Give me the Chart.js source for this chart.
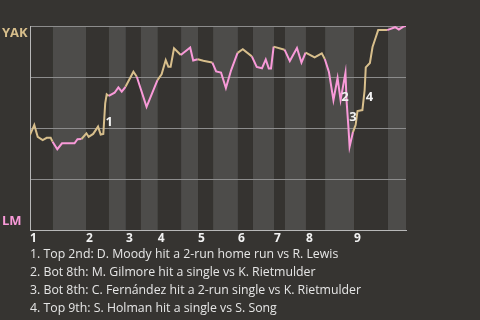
<!DOCTYPE html>
<html>
<head>
<meta charset="utf-8">
<script src="https://cdn.jsdelivr.net/npm/chart.js@4"></script>
<style>
  body { margin: 0; background: #363431; }
  #wrap { position: relative; width: 480px; height: 320px; }
  #wpChart { display: block; }
  #notes {
    position: absolute; left: 30px; top: 245px;
    font: 12.3px "Open Sans", sans-serif; color: #e6e6e6; line-height: 18px;
    white-space: nowrap;
  }
</style>
</head>
<body>
<div id="wrap">
  <canvas id="wpChart" width="480" height="320"></canvas>
  <div id="notes"></div>
</div>
<script>
// play-by-play win probability for YAK (1 = YAK wins, 0 = LM wins)
const plays = [0, 1.14, 2.05, 3.38, 4.44, 5.5, 6.0, 7.26, 8.51, 11.84, 12.63, 13.7, 15.0, 15.6, 16.8, 18.1, 18.8, 19.5, 20.0, 20.4,
  20.95, 22.5, 23.5, 24.4, 25.4, 27.5, 28.4, 31.0, 33.9, 35.0, 36.1, 36.8, 37.4, 38.3, 40.1, 42.6, 43.4, 44.6, 46.1, 47.4,
  48.5, 49.5, 50.8, 52.1, 53.5, 55.2, 56.6, 59.0, 60.3, 61.7, 62.7, 63.5, 64.1, 64.8, 67.7, 69.1, 71.0, 72.2, 73.3, 75.7,
  77.6, 78.4, 79.5, 80.7, 81.8, 82.6, 83.9, 84.2, 84.7, 85.0, 85.9, 86.6, 87.1, 88.4, 89.0, 89.3, 90.4, 91.1, 91.9, 92.6,
  95.0, 97.1, 98.1, 99.3, 100];
const winProb = [0.466, 0.515, 0.457, 0.441, 0.452, 0.452, 0.433, 0.396, 0.425, 0.425, 0.445, 0.446, 0.474, 0.457, 0.471, 0.507, 0.468, 0.471, 0.621, 0.665,
  0.657, 0.673, 0.699, 0.678, 0.702, 0.776, 0.751, 0.604, 0.735, 0.763, 0.833, 0.8, 0.8, 0.891, 0.858, 0.895, 0.831, 0.837, 0.83, 0.825,
  0.821, 0.777, 0.772, 0.696, 0.784, 0.868, 0.886, 0.851, 0.799, 0.793, 0.836, 0.792, 0.792, 0.899, 0.884, 0.828, 0.892, 0.821, 0.870, 0.846,
  0.866, 0.838, 0.775, 0.637, 0.745, 0.637, 0.771, 0.632, 0.5, 0.408, 0.48, 0.515, 0.583, 0.588, 0.686, 0.797, 0.819, 0.897, 0.941, 0.98,
  0.98, 0.994, 0.983, 0.997, 1.0];

// where each half inning starts (top 1, bot 1, top 2, ...)
const halfStarts = [0, 6.1, 14.9, 21.0, 25.5, 29.5, 34.0, 40.2, 44.7, 48.7, 55.3, 59.3, 64.9, 67.8, 73.4, 78.5, 86.2, 95.2];
const gameEnd = 100;
const innings = ["1", "2", "3", "4", "5", "6", "7", "8", "9"];
const teams = ["YAK", "LM"];

// key plays
const markText = ["1", "2", "3", "4"];
const markPlay = [21.1, 83.8, 85.9, 90.3];
const markProb = [0.529, 0.652, 0.554, 0.652];
const notes = [
  "1. Top 2nd: D. Moody hit a 2-run home run vs R. Lewis",
  "2. Bot 8th: M. Gilmore hit a single vs K. Rietmulder",
  "3. Bot 8th: C. Fernández hit a 2-run single vs K. Rietmulder",
  "4. Top 9th: S. Holman hit a single vs S. Song"
];

const awayColor = "#d8bf8c";
const homeColor = "#f99ad9";

function halfIndex(x) {
  let i = 0;
  while (i + 1 < halfStarts.length && x >= halfStarts[i + 1]) i++;
  return i;
}

const bands = {
  id: "bands",
  beforeDraw(chart) {
    const { ctx, chartArea, scales } = chart;
    ctx.save();
    for (let i = 0; i < halfStarts.length; i++) {
      const x0 = scales.x.getPixelForValue(halfStarts[i]);
      const x1 = scales.x.getPixelForValue(i + 1 < halfStarts.length ? halfStarts[i + 1] : gameEnd);
      ctx.fillStyle = i % 2 === 0 ? "#353330" : "#4d4c4a";
      ctx.fillRect(x0, chartArea.top, x1 - x0, chartArea.bottom - chartArea.top);
    }
    ctx.restore();
  },
  afterDraw(chart) {
    const { ctx, chartArea, scales } = chart;
    ctx.save();
    // team names
    ctx.font = "bold 13px 'Open Sans', sans-serif";
    ctx.textAlign = "left";
    ctx.textBaseline = "middle";
    ctx.fillStyle = awayColor;
    ctx.fillText(teams[0], 2, chartArea.top + 7);
    ctx.fillStyle = homeColor;
    ctx.fillText(teams[1], 2, chartArea.bottom - 9);
    // innings
    ctx.font = "bold 12px 'Open Sans', sans-serif";
    ctx.fillStyle = "#f2f2f2";
    innings.forEach((t, k) => {
      ctx.fillText(t, scales.x.getPixelForValue(halfStarts[k * 2]), chartArea.bottom + 9);
    });
    // key play marks
    ctx.font = "bold 13px 'Open Sans', sans-serif";
    ctx.textAlign = "center";
    markText.forEach((t, k) => {
      ctx.fillText(t, scales.x.getPixelForValue(markPlay[k]), scales.y.getPixelForValue(markProb[k]));
    });
    ctx.restore();
  }
};

new Chart(document.getElementById("wpChart"), {
  type: "line",
  data: {
    datasets: [
      {
        data: plays.map((p, i) => ({ x: p, y: winProb[i] })),
        borderWidth: 2,
        pointRadius: 0,
        tension: 0,
        borderColor: awayColor,
        segment: {
          borderColor: (c) => (halfIndex(c.p1.parsed.x) % 2 === 0 ? awayColor : homeColor),
        },
      },
    ],
  },
  options: {
    responsive: false,
    animation: false,
    layout: { padding: { left: 30, top: 26, right: 74, bottom: 90 } },
    plugins: { legend: { display: false }, tooltip: { enabled: false } },
    scales: {
      x: {
        type: "linear", min: 0, max: gameEnd,
        grid: { display: false, drawTicks: false },
        ticks: { display: false },
        border: { color: "#b8b8b8" },
      },
      y: {
        min: 0, max: 1,
        ticks: { display: false, stepSize: 0.25 },
        grid: { color: "#8c8c8c", drawTicks: false },
        border: { color: "#b8b8b8" },
      },
    },
  },
  plugins: [bands],
});

document.getElementById("notes").innerHTML = notes.map((n) => "<div>" + n + "</div>").join("");
</script>
</body>
</html>
